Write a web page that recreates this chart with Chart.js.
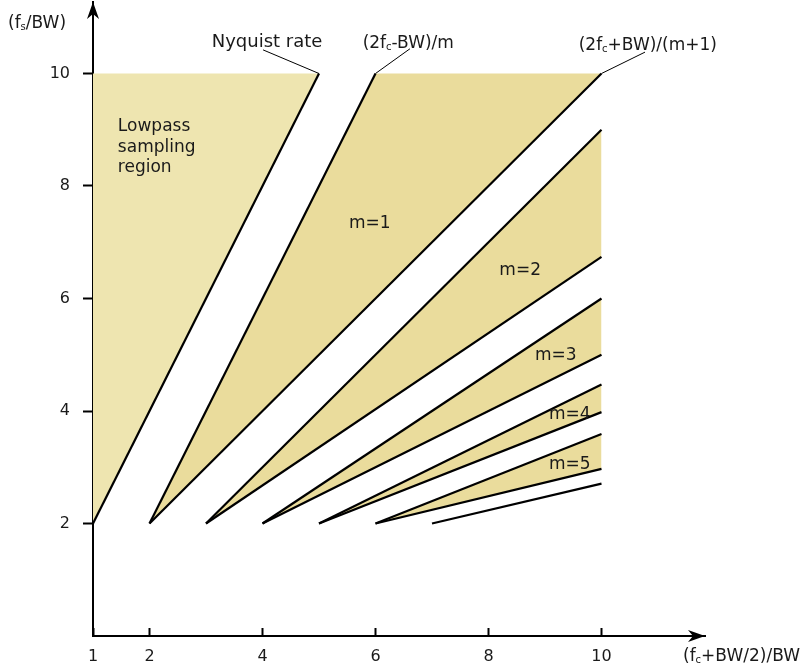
<!DOCTYPE html>
<html>
<head>
<meta charset="utf-8">
<script src="https://cdn.jsdelivr.net/npm/chart.js@4.4.1/dist/chart.umd.min.js"></script>
<style>
  html, body { margin: 0; padding: 0; background: #fff; }
  #wrap { width: 810px; height: 672px; }
</style>
</head>
<body>
<div id="wrap"><canvas id="bandpassChart" width="810" height="672"></canvas></div>
<script>
// Boundary lines, x = (fc+BW/2)/BW, y = fs/BW
// order: Nyquist, then upper/lower edge of each m wedge, then the last m=6 edge
const lineStartX = [1, 2, 2, 3, 3, 4, 4, 5, 5, 6, 6, 7];
const lineStartY = [2, 2, 2, 2, 2, 2, 2, 2, 2, 2, 2, 2];
const lineEndX = [5, 6, 10, 10, 10, 10, 10, 10, 10, 10, 10, 10];
const lineEndY = [10, 10, 10, 9, 6.74, 6, 5, 4.47, 3.98, 3.59, 2.97, 2.71];

// shaded bandpass regions: index of upper and lower edge line
const regionNames = ['m=1', 'm=2', 'm=3', 'm=4', 'm=5'];
const regionUpper = [1, 3, 5, 7, 9];
const regionLower = [2, 4, 6, 8, 10];
const topLimit = 10;

const xTicks = [1, 2, 4, 6, 8, 10];
const yTicks = [2, 4, 6, 8, 10];

const FONT = '"DejaVu Sans", Verdana, sans-serif';
const TEXT = '#1a1a1a';
const LOWPASS_FILL = '#EEE5B0';
const REGION_FILL = '#EADC9C';

// annotation placement (data units)
const notePos = {
  lowpass: { x: 1.44, y: [9.06, 8.69, 8.32], text: ['Lowpass', 'sampling', 'region'] },
  regions: [[5.90, 7.34], [8.56, 6.50], [9.19, 4.99], [9.44, 3.93], [9.44, 3.04]],
  callouts: [
    { parts: [['Nyquist rate', false]], size: 18, at: [4.08, 10.58], from: [4.01, 10.42], line: 0 },
    { parts: [['(2f', false], ['c', true], ['-BW)/m', false]], size: 17, at: [6.58, 10.56], from: [6.61, 10.44], line: 1 },
    { parts: [['(2f', false], ['c', true], ['+BW)/(m+1)', false]], size: 17, at: [10.82, 10.52], from: [10.77, 10.38], line: 2 }
  ]
};

const datasets = [];
lineStartX.forEach((x0, i) => {
  datasets.push({
    data: [{ x: x0, y: lineStartY[i] }, { x: lineEndX[i], y: lineEndY[i] }],
    borderColor: '#000',
    borderWidth: 2.2,
    pointRadius: 0,
    fill: false,
    order: 1
  });
});

// lowpass region: y=10 edge down to the Nyquist line
datasets.push({
  data: [{ x: lineStartX[0], y: topLimit }, { x: lineEndX[0], y: topLimit }],
  borderWidth: 0,
  pointRadius: 0,
  backgroundColor: LOWPASS_FILL,
  fill: 0,
  order: 2
});

regionUpper.forEach((u, r) => {
  const lo = regionLower[r];
  const pts = [{ x: lineStartX[u], y: lineStartY[u] }, { x: lineEndX[u], y: lineEndY[u] }];
  if (lineEndX[u] < lineEndX[lo]) pts.push({ x: lineEndX[lo], y: lineEndY[u] });
  datasets.push({
    data: pts,
    borderWidth: 0,
    pointRadius: 0,
    backgroundColor: REGION_FILL,
    fill: lo,
    order: 2
  });
});

function drawRich(ctx, parts, x, y, centred, size) {
  const big = (size || 17) + 'px ';
  let w = 0;
  parts.forEach(p => {
    ctx.font = (p[1] ? '10px ' : big) + FONT;
    w += ctx.measureText(p[0]).width;
  });
  let cx = centred ? x - w / 2 : x;
  parts.forEach(p => {
    ctx.font = (p[1] ? '10px ' : big) + FONT;
    ctx.fillText(p[0], cx, p[1] ? y + 2 : y);
    cx += ctx.measureText(p[0]).width;
  });
}

const notesPlugin = {
  id: 'notes',
  afterDraw(chart) {
    const ctx = chart.ctx;
    const xs = chart.scales.x, ys = chart.scales.y;
    const area = chart.chartArea;
    ctx.save();
    ctx.fillStyle = TEXT;
    ctx.textAlign = 'left';
    ctx.textBaseline = 'middle';
    ctx.font = '17px ' + FONT;

    notePos.lowpass.text.forEach((t, i) => {
      ctx.fillText(t, xs.getPixelForValue(notePos.lowpass.x), ys.getPixelForValue(notePos.lowpass.y[i]));
    });
    ctx.textAlign = 'center';
    regionNames.forEach((name, i) => {
      const p = notePos.regions[i];
      ctx.fillText(name, xs.getPixelForValue(p[0]), ys.getPixelForValue(p[1]));
    });

    // callouts with leader lines
    ctx.textAlign = 'left';
    ctx.textBaseline = 'alphabetic';
    ctx.strokeStyle = '#000';
    ctx.lineWidth = 1;
    notePos.callouts.forEach(c => {
      drawRich(ctx, c.parts, xs.getPixelForValue(c.at[0]), ys.getPixelForValue(c.at[1]) + 6, true, c.size);
      ctx.beginPath();
      ctx.moveTo(xs.getPixelForValue(c.from[0]), ys.getPixelForValue(c.from[1]));
      ctx.lineTo(xs.getPixelForValue(lineEndX[c.line]), ys.getPixelForValue(lineEndY[c.line]));
      ctx.stroke();
    });

    // axis titles
    drawRich(ctx, [['(f', false], ['s', true], ['/BW)', false]], 8, 28, false);
    drawRich(ctx, [['(f', false], ['c', true], ['+BW/2)/BW', false]], 683, 661, false);

    // arrow heads
    ctx.fillStyle = '#000';
    const ax = area.left, ay = area.top;
    ctx.beginPath();
    ctx.moveTo(ax, ay);
    ctx.lineTo(ax - 6, ay + 17);
    ctx.lineTo(ax, ay + 12);
    ctx.lineTo(ax + 6, ay + 17);
    ctx.closePath();
    ctx.fill();
    const bx = area.right, by = area.bottom;
    ctx.beginPath();
    ctx.moveTo(bx, by);
    ctx.lineTo(bx - 17, by - 6);
    ctx.lineTo(bx - 12, by);
    ctx.lineTo(bx - 17, by + 6);
    ctx.closePath();
    ctx.fill();
    ctx.restore();
  }
};

new Chart(document.getElementById('bandpassChart'), {
  type: 'line',
  data: { datasets: datasets },
  options: {
    responsive: false,
    animation: false,
    layout: { padding: { left: 0, right: 105, top: 2, bottom: 0 } },
    plugins: {
      legend: { display: false },
      tooltip: { enabled: false },
      filler: { propagate: false }
    },
    elements: { line: { tension: 0 } },
    scales: {
      x: {
        type: 'linear',
        min: 1,
        max: 1 + 612 / 56.5,
        afterBuildTicks: s => { s.ticks = xTicks.map(v => ({ value: v })); },
        afterFit: s => { s.height = 36; s.paddingLeft = 0; s.paddingRight = 0; },
        border: { display: true, color: '#000', width: 2 },
        grid: { drawOnChartArea: false, drawTicks: true, tickLength: -8, tickWidth: 2, tickColor: '#000' },
        ticks: { color: TEXT, font: { family: FONT, size: 16 }, padding: 19, maxRotation: 0, autoSkip: false }
      },
      y: {
        type: 'linear',
        min: 0,
        max: 634 / 56.25,
        afterBuildTicks: s => { s.ticks = yTicks.map(v => ({ value: v })); },
        afterFit: s => { s.width = 93; s.paddingTop = 0; s.paddingBottom = 0; },
        border: { display: true, color: '#000', width: 2 },
        grid: { drawOnChartArea: false, drawTicks: true, tickLength: 10, tickWidth: 2, tickColor: '#000' },
        ticks: { color: TEXT, font: { family: FONT, size: 16 }, padding: 13, autoSkip: false }
      }
    }
  },
  plugins: [notesPlugin]
});
</script>
</body>
</html>
